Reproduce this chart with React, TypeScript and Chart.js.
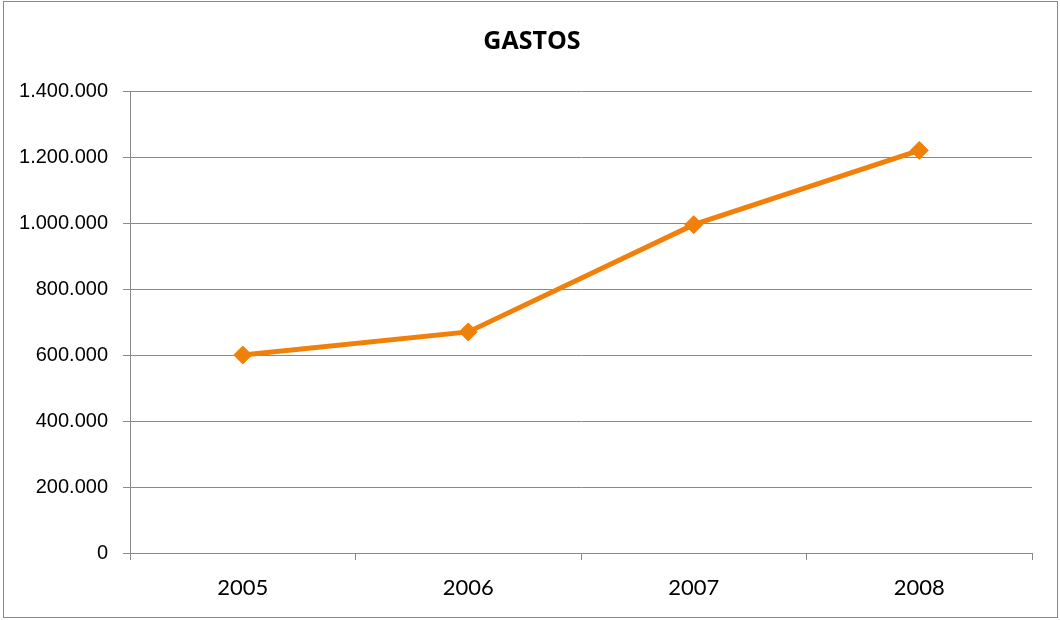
import React, { useEffect, useRef } from "react";
import { Chart, registerables } from "chart.js";

Chart.register(...registerables);

const categories: string[] = ["2005", "2006", "2007", "2008"];
const gastos: number[] = [600000, 670000, 995000, 1220000];
const yTicks: number[] = [0, 200000, 400000, 600000, 800000, 1000000, 1200000, 1400000];
const chartTitle = "GASTOS";

const fmt = (v: number) => String(Math.round(v)).replace(/\B(?=(\d{3})+(?!\d))/g, ".");

const borderPlugin = {
  id: "outerBorder",
  beforeDraw(chart: any) {
    const ctx = chart.ctx;
    ctx.save();
    ctx.fillStyle = "#ffffff";
    ctx.fillRect(0, 0, chart.width, chart.height);
    ctx.strokeStyle = "#898989";
    ctx.lineWidth = 1;
    ctx.strokeRect(3.5, 1.5, 1054, 616);
    ctx.fillStyle = "#000000";
    ctx.font = "bold 25px 'Open Sans', sans-serif";
    ctx.textAlign = "center";
    ctx.textBaseline = "middle";
    ctx.fillText(chartTitle, 532, 42);
    ctx.restore();
  },
};

export default function App() {
  const ref = useRef<HTMLCanvasElement | null>(null);

  useEffect(() => {
    if (!ref.current) return;
    const chart = new Chart(ref.current, {
      type: "line",
      data: {
        labels: categories,
        datasets: [
          {
            label: chartTitle,
            data: gastos,
            borderColor: "#F0800A",
            backgroundColor: "#F0800A",
            borderWidth: 5,
            pointStyle: "rectRot",
            pointRadius: 9,
            pointBorderWidth: 1,
            pointBackgroundColor: "#F0800A",
            pointBorderColor: "#F0800A",
            tension: 0,
          },
        ],
      },
      options: {
        responsive: false,
        maintainAspectRatio: false,
        animation: false,
        layout: { padding: { left: 0, right: 28, top: 91, bottom: 0 } },
        plugins: {
          legend: { display: false },
          tooltip: { enabled: false },
          title: { display: false },
        },
        scales: {
          x: {
            offset: true,
            afterFit: (s: any) => {
              s.height = 67;
            },
            grid: {
              offset: true,
              drawOnChartArea: false,
              drawTicks: true,
              tickLength: 7,
              color: "#898989",
              lineWidth: 1,
            },
            border: { display: true, color: "#898989", width: 1 },
            ticks: {
              color: "#000000",
              padding: 15,
              font: { family: "Lato, sans-serif", size: 22 },
            },
          },
          y: {
            min: 0,
            max: 1400000,
            afterFit: (s: any) => {
              s.width = 130;
            },
            afterBuildTicks: (s: any) => {
              s.ticks = yTicks.map((v) => ({ value: v }));
            },
            grid: {
              drawTicks: true,
              tickLength: 7,
              color: "#898989",
              lineWidth: 1,
            },
            border: { display: true, color: "#898989", width: 1 },
            ticks: {
              color: "#000000",
              padding: 15,
              font: { family: "'Liberation Sans', Arial, sans-serif", size: 20 },
              callback: (v: any) => fmt(Number(v)),
            },
          },
        },
      },
      plugins: [borderPlugin],
    });
    return () => chart.destroy();
  }, []);

  return (
    <div style={{ position: "absolute", left: 0, top: 0, width: 1060, height: 620 }}>
      <canvas ref={ref} width={1060} height={620} style={{ width: 1060, height: 620, display: "block" }} />
    </div>
  );
}
